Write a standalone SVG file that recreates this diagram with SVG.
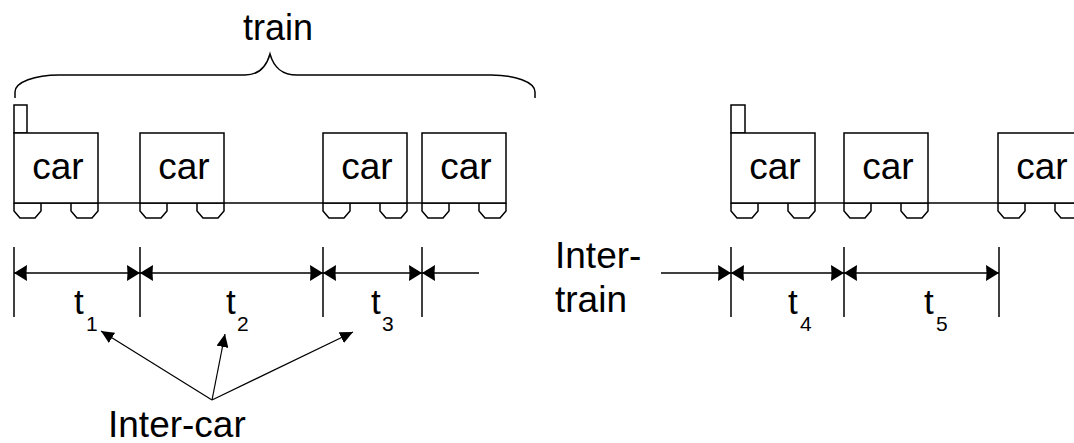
<svg xmlns="http://www.w3.org/2000/svg" width="1074" height="443" viewBox="0 0 1074 443">
  <style>
    .ln { fill: none; stroke: #000; stroke-width: 1.5; }
    .box { fill: #fff; stroke: #000; stroke-width: 1.5; }
    .lbl { font-family: "Liberation Sans", Arial, sans-serif; font-size: 37px; fill: #000; }
    .t { font-family: "Liberation Sans", Arial, sans-serif; font-size: 35px; fill: #000; }
    .sub { font-family: "Liberation Sans", Arial, sans-serif; font-size: 21px; fill: #000; }
    .thin { fill: none; stroke: #000; stroke-width: 1.2; }
  </style>
  <defs>
    <!-- solid arrowhead for dimension lines -->
    <marker id="dim" markerUnits="userSpaceOnUse" markerWidth="14" markerHeight="16" refX="13" refY="8" orient="auto-start-reverse">
      <path d="M0,0 L13,8 L0,16 Q1,8 0,0 z" fill="#000"/>
    </marker>
    <!-- smaller arrowhead for pointer lines -->
    <marker id="ptr" markerUnits="userSpaceOnUse" markerWidth="14" markerHeight="12" refX="13" refY="6" orient="auto">
      <path d="M0,0 L13,6 L0,12 z" fill="#000"/>
    </marker>
    <!-- wheel outline, origin at left end of axle line -->
    <path id="wheel" d="M0,0 V8 L6,15 H21 L27,8 V0"/>
  </defs>

  <!-- brace over the first train -->
  <g id="brace">
    <path class="ln" d="M15,98 V92 C15,82 35,75 59,75 H245 C258,75 266,68 270,54 C274,68 282,75 297,75 H491 C515,75 535,82 535,92 V98"/>
    <text class="lbl" x="243" y="40" textLength="70" lengthAdjust="spacingAndGlyphs">train</text>
  </g>

  <!-- track lines -->
  <g id="tracks">
    <line class="ln" x1="14" y1="203" x2="506" y2="203"/>
    <line class="ln" x1="731" y1="203" x2="1074" y2="203"/>
  </g>

  <!-- first train -->
  <g id="car1">
    <rect class="box" x="14" y="105" width="13" height="28"/>
    <rect class="box" x="14" y="133" width="84" height="70"/>
    <use href="#wheel" class="ln" x="14" y="203"/>
    <use href="#wheel" class="ln" x="71" y="203"/>
    <text class="lbl" x="58" y="179" text-anchor="middle">car</text>
  </g>
  <g id="car2">
    <rect class="box" x="140" y="133" width="84" height="70"/>
    <use href="#wheel" class="ln" x="140" y="203"/>
    <use href="#wheel" class="ln" x="197" y="203"/>
    <text class="lbl" x="184" y="179" text-anchor="middle">car</text>
  </g>
  <g id="car3">
    <rect class="box" x="323" y="133" width="84" height="70"/>
    <use href="#wheel" class="ln" x="323" y="203"/>
    <use href="#wheel" class="ln" x="380" y="203"/>
    <text class="lbl" x="367" y="179" text-anchor="middle">car</text>
  </g>
  <g id="car4">
    <rect class="box" x="422" y="133" width="84" height="70"/>
    <use href="#wheel" class="ln" x="422" y="203"/>
    <use href="#wheel" class="ln" x="479" y="203"/>
    <text class="lbl" x="466" y="179" text-anchor="middle">car</text>
  </g>

  <!-- second train -->
  <g id="car5">
    <rect class="box" x="731" y="105" width="14" height="28"/>
    <rect class="box" x="731" y="133" width="84" height="70"/>
    <use href="#wheel" class="ln" x="731" y="203"/>
    <use href="#wheel" class="ln" x="788" y="203"/>
    <text class="lbl" x="775" y="179" text-anchor="middle">car</text>
  </g>
  <g id="car6">
    <rect class="box" x="844" y="133" width="84" height="70"/>
    <use href="#wheel" class="ln" x="844" y="203"/>
    <use href="#wheel" class="ln" x="901" y="203"/>
    <text class="lbl" x="888" y="179" text-anchor="middle">car</text>
  </g>
  <g id="car7">
    <rect class="box" x="998" y="133" width="84" height="70"/>
    <use href="#wheel" class="ln" x="998" y="203"/>
    <use href="#wheel" class="ln" x="1055" y="203"/>
    <text class="lbl" x="1042" y="179" text-anchor="middle">car</text>
  </g>

  <!-- dimension ticks and spans -->
  <g id="connectors">
    <g id="ticks">
      <line class="ln" x1="14" y1="247" x2="14" y2="317"/>
      <line class="ln" x1="140" y1="247" x2="140" y2="317"/>
      <line class="ln" x1="323" y1="247" x2="323" y2="317"/>
      <line class="ln" x1="422" y1="247" x2="422" y2="317"/>
      <line class="ln" x1="731" y1="247" x2="731" y2="317"/>
      <line class="ln" x1="844" y1="247" x2="844" y2="317"/>
      <line class="ln" x1="999" y1="247" x2="999" y2="317"/>
    </g>
    <g id="spans">
      <line class="ln" x1="14" y1="273" x2="140" y2="273" marker-start="url(#dim)" marker-end="url(#dim)"/>
      <line class="ln" x1="140" y1="273" x2="323" y2="273" marker-start="url(#dim)" marker-end="url(#dim)"/>
      <line class="ln" x1="323" y1="273" x2="422" y2="273" marker-start="url(#dim)" marker-end="url(#dim)"/>
      <line class="ln" x1="422" y1="273" x2="479" y2="273" marker-start="url(#dim)"/>
      <line class="ln" x1="661" y1="273" x2="731" y2="273" marker-end="url(#dim)"/>
      <line class="ln" x1="731" y1="273" x2="844" y2="273" marker-start="url(#dim)" marker-end="url(#dim)"/>
      <line class="ln" x1="844" y1="273" x2="999" y2="273" marker-start="url(#dim)" marker-end="url(#dim)"/>
    </g>
    <g id="pointers">
      <line class="thin" x1="212" y1="400" x2="101" y2="331" marker-end="url(#ptr)"/>
      <line class="thin" x1="212" y1="400" x2="225" y2="334" marker-end="url(#ptr)"/>
      <line class="thin" x1="212" y1="400" x2="353" y2="332" marker-end="url(#ptr)"/>
    </g>
  </g>

  <!-- span labels -->
  <g id="labels">
    <text class="t" x="74" y="314">t</text><text class="sub" x="86" y="331">1</text>
    <text class="t" x="226" y="314">t</text><text class="sub" x="237" y="331">2</text>
    <text class="t" x="371" y="314">t</text><text class="sub" x="382" y="331">3</text>
    <text class="t" x="788" y="314">t</text><text class="sub" x="800" y="331">4</text>
    <text class="t" x="924" y="314">t</text><text class="sub" x="936" y="331">5</text>
    <text class="lbl" x="555" y="268">Inter-</text>
    <text class="lbl" x="555" y="312">train</text>
    <text class="lbl" x="108" y="437">Inter-car</text>
  </g>
</svg>
